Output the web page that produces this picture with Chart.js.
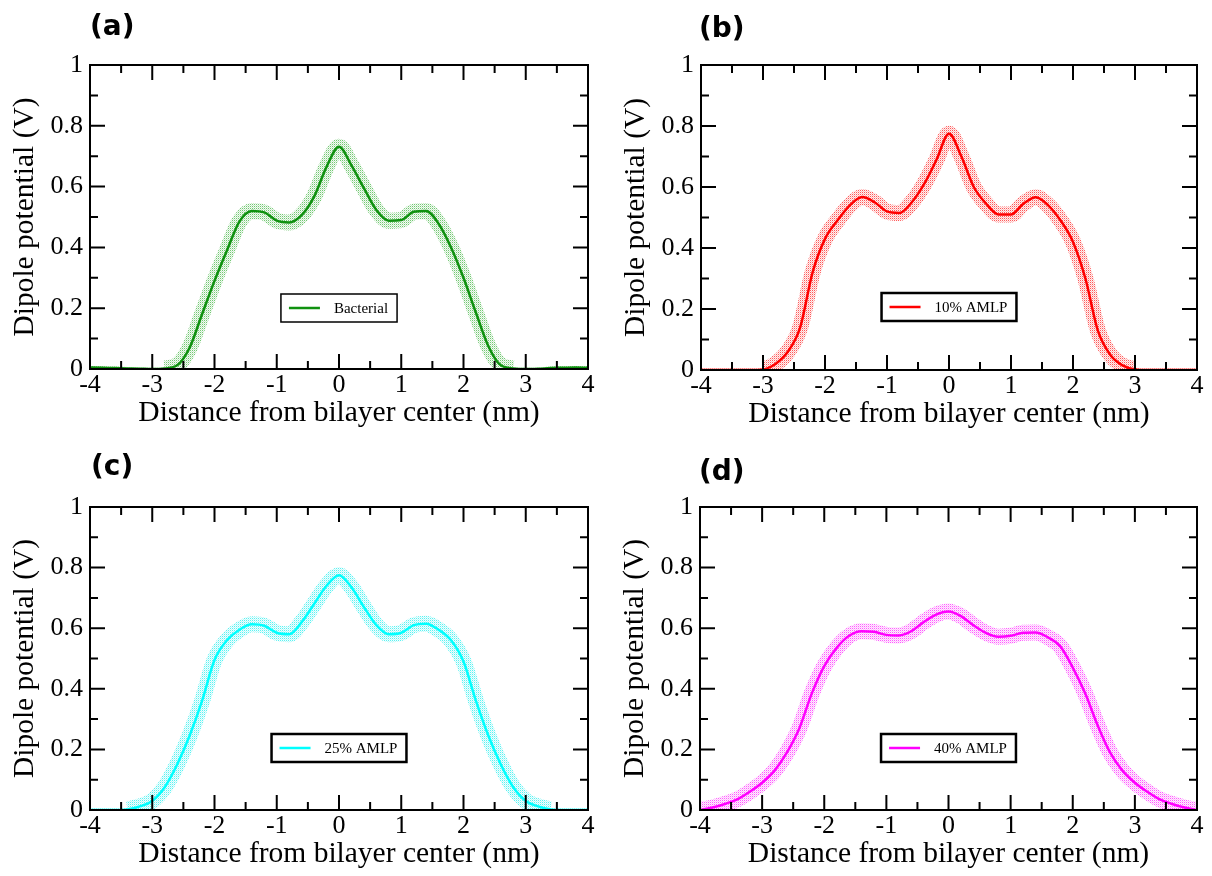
<!DOCTYPE html>
<html lang="en">
<head>
  <meta charset="UTF-8" />
  <title>Dipole potential profiles</title>
  <script src="https://cdn.jsdelivr.net/npm/chart.js"></script>
  <style>
    body { margin: 0; background: #fff; }
    #wrap { position: relative; width: 1212px; height: 876px; overflow: hidden; }
    #wrap canvas { position: absolute; }
    .tag {
      position: absolute;
      font-family: 'DejaVu Sans', sans-serif;
      font-weight: bold;
      font-size: 28px;
      line-height: 28px;
      color: #000;
    }
  </style>
</head>
<body>
  <div id="wrap">
    <canvas id="cA" width="606" height="440" style="left:0;top:0"></canvas>
    <canvas id="cB" width="606" height="440" style="left:606px;top:0"></canvas>
    <canvas id="cC" width="606" height="436" style="left:0;top:440px"></canvas>
    <canvas id="cD" width="606" height="436" style="left:606px;top:440px"></canvas>
    <div class="tag" style="left:90px;top:12px">(a)</div>
    <div class="tag" style="left:699px;top:14px">(b)</div>
    <div class="tag" style="left:91px;top:452px">(c)</div>
    <div class="tag" style="left:699px;top:457px">(d)</div>
  </div>

  <script>
    // distance from bilayer center (nm)
    const xs = [-4, -3.8, -3.6, -3.4, -3.2, -3, -2.8, -2.6, -2.4, -2.2, -2, -1.8, -1.6, -1.4, -1.2, -1, -0.8, -0.6, -0.4, -0.2,
                0, 0.2, 0.4, 0.6, 0.8, 1, 1.2, 1.4, 1.6, 1.8, 2, 2.2, 2.4, 2.6, 2.8, 3, 3.2, 3.4, 3.6, 3.8, 4];

    // dipole potential (V)
    const bacterial = [0.005, 0.004, 0.003, 0.002, 0.001, 0.000, 0.002, 0.012, 0.070, 0.180, 0.290, 0.390, 0.485, 0.520, 0.515, 0.488, 0.482, 0.506, 0.567, 0.665,
                       0.731, 0.670, 0.595, 0.523, 0.488, 0.490, 0.517, 0.520, 0.478, 0.400, 0.300, 0.185, 0.075, 0.012, 0.002, 0.000, 0.001, 0.003, 0.004, 0.005, 0.004];
    const amlp10 = [0, 0, 0, 0, 0, 0.002, 0.020, 0.060, 0.140, 0.320, 0.430, 0.490, 0.540, 0.567, 0.550, 0.520, 0.515, 0.550, 0.610, 0.690,
                    0.775, 0.700, 0.600, 0.545, 0.510, 0.510, 0.545, 0.566, 0.540, 0.490, 0.420, 0.300, 0.130, 0.050, 0.015, 0.002, 0, 0, 0, 0, 0];
    const amlp25 = [0, 0, 0, 0.002, 0.012, 0.030, 0.075, 0.150, 0.245, 0.360, 0.495, 0.560, 0.595, 0.613, 0.608, 0.585, 0.580, 0.620, 0.680, 0.740,
                    0.775, 0.735, 0.670, 0.610, 0.580, 0.585, 0.610, 0.615, 0.595, 0.560, 0.490, 0.360, 0.245, 0.150, 0.075, 0.030, 0.012, 0.002, 0, 0, 0];
    const amlp40 = [0.000, 0.008, 0.020, 0.035, 0.060, 0.090, 0.130, 0.190, 0.270, 0.385, 0.475, 0.535, 0.575, 0.590, 0.588, 0.578, 0.576, 0.590, 0.620, 0.645,
                    0.655, 0.640, 0.610, 0.585, 0.572, 0.575, 0.585, 0.586, 0.570, 0.540, 0.470, 0.385, 0.280, 0.190, 0.130, 0.090, 0.060, 0.035, 0.020, 0.008, 0.000];

    const xTicks = [-4, -3, -2, -1, 0, 1, 2, 3, 4];
    const xMinor = [-3.5, -2.5, -1.5, -0.5, 0.5, 1.5, 2.5, 3.5];
    const yTicks = [0, 0.2, 0.4, 0.6, 0.8, 1];
    const yMinor = [0.1, 0.3, 0.5, 0.7, 0.9];

    const serif = 'Liberation Serif, Times New Roman, serif';

    // dotted error band look
    function stipple(rgb) {
      const c = document.createElement('canvas');
      c.width = 2; c.height = 2;
      const g = c.getContext('2d');
      g.fillStyle = 'rgba(' + rgb + ',0.65)'; g.fillRect(0, 0, 1, 1);
      g.fillStyle = 'rgba(' + rgb + ',0.25)'; g.fillRect(1, 1, 1, 1);
      g.fillStyle = 'rgba(' + rgb + ',0.06)'; g.fillRect(1, 0, 1, 1); g.fillRect(0, 1, 1, 1);
      return g.createPattern(c, 'repeat');
    }

    // frame + inward ticks on all four sides
    const frameTicks = {
      id: 'frameTicks',
      afterDatasetsDraw(chart) {
        const { ctx, chartArea: a, scales: { x, y } } = chart;
        ctx.save();
        ctx.strokeStyle = '#000';
        ctx.lineWidth = 2;
        ctx.beginPath();
        const vt = (v, len) => {
          const px = x.getPixelForValue(v);
          ctx.moveTo(px, a.bottom); ctx.lineTo(px, a.bottom - len);
          ctx.moveTo(px, a.top); ctx.lineTo(px, a.top + len);
        };
        const ht = (v, len) => {
          const py = y.getPixelForValue(v);
          ctx.moveTo(a.left, py); ctx.lineTo(a.left + len, py);
          ctx.moveTo(a.right, py); ctx.lineTo(a.right - len, py);
        };
        xTicks.forEach(v => vt(v, 15));
        xMinor.forEach(v => vt(v, 8));
        yTicks.forEach(v => ht(v, 15));
        yMinor.forEach(v => ht(v, 8));
        ctx.stroke();
        ctx.strokeRect(a.left, a.top, a.right - a.left, a.bottom - a.top);
        ctx.restore();
      }
    };

    // boxed legend inside the plot
    const boxLegend = {
      id: 'boxLegend',
      afterDraw(chart, args, opts) {
        const { ctx, chartArea: a } = chart;
        const ds = chart.data.datasets[0];
        ctx.save();
        ctx.font = '15px ' + serif;
        const tw = ctx.measureText(ds.label).width;
        const w = 8 + 31 + 14 + tw + 9;
        const h = 28;
        const left = (a.left + a.right) / 2 - w / 2;
        const top = a.top + opts.top;
        ctx.fillStyle = '#fff';
        ctx.fillRect(left, top, w, h);
        ctx.strokeStyle = '#000';
        ctx.lineWidth = opts.lw;
        ctx.strokeRect(left, top, w, h);
        ctx.strokeStyle = ds.borderColor;
        ctx.lineWidth = 2.5;
        ctx.beginPath();
        ctx.moveTo(left + 8, top + h / 2);
        ctx.lineTo(left + 39, top + h / 2);
        ctx.stroke();
        ctx.fillStyle = '#000';
        ctx.textBaseline = 'middle';
        ctx.fillText(ds.label, left + 53, top + h / 2 + 1);
        ctx.restore();
      }
    };

    function panel(id, box, area, label, ys, lineCol, bandRgb, legendTop, legendLw) {
      const pts = xs.map((v, i) => ({ x: v, y: ys[i] }));
      const yW = area.l - box.x;
      const xH = box.y + box.h - area.b;
      const titleFont = { family: serif, size: 29.5 };
      const tickFont = { family: serif, size: 26 };
      return new Chart(document.getElementById(id), {
        type: 'line',
        data: {
          datasets: [
            { label: label, data: pts, borderColor: lineCol, borderWidth: 2.5, pointRadius: 0,
              cubicInterpolationMode: 'monotone' },
            { label: label + ' error', data: pts, borderColor: stipple(bandRgb), borderWidth: 16, pointRadius: 0,
              cubicInterpolationMode: 'monotone', borderJoinStyle: 'round', clip: 0,
              // band is thin where the potential is flat at zero
              segment: { borderWidth: c => Math.max(c.p0.parsed.y, c.p1.parsed.y) < 0.006 ? 3 : 16 } }
          ]
        },
        options: {
          responsive: false,
          animation: false,
          events: [],
          layout: { padding: { top: area.t - box.y, right: box.x + box.w - area.r, left: 0, bottom: 0 } },
          plugins: {
            legend: { display: false },
            tooltip: { enabled: false },
            boxLegend: { top: legendTop, lw: legendLw }
          },
          scales: {
            x: {
              type: 'linear', min: -4, max: 4,
              afterBuildTicks: s => { s.ticks = xTicks.map(v => ({ value: v })); },
              ticks: { color: '#000', font: tickFont, padding: 1, maxRotation: 0, autoSkip: false, callback: v => String(v) },
              grid: { display: false, drawTicks: false },
              border: { display: false },
              title: { display: true, text: 'Distance from bilayer center (nm)', color: '#000', font: titleFont,
                       padding: { top: 0, bottom: Math.max(0, xH - 44 - 17.7) } },
              afterFit: s => { s.height = xH; }
            },
            y: {
              type: 'linear', min: 0, max: 1,
              afterBuildTicks: s => { s.ticks = yTicks.map(v => ({ value: v })); },
              ticks: { color: '#000', font: tickFont, padding: 7, autoSkip: false, callback: v => String(v) },
              grid: { display: false, drawTicks: false },
              border: { display: false },
              title: { display: true, text: 'Dipole potential (V)', color: '#000', font: titleFont,
                       padding: { top: yW - 65 - 17.7, bottom: 0 } },
              afterFit: s => { s.width = yW; }
            }
          }
        },
        plugins: [frameTicks, boxLegend]
      });
    }

    panel('cA', { x: 0, y: 0, w: 606, h: 440 }, { l: 90, t: 65, r: 588, b: 369 },
          'Bacterial', bacterial, 'rgb(15,145,15)', '40,170,40', 229, 1.5);
    panel('cB', { x: 606, y: 0, w: 606, h: 440 }, { l: 701, t: 65, r: 1197, b: 370 },
          '10% AMLP', amlp10, '#ff0000', '255,0,0', 228, 2.5);
    panel('cC', { x: 0, y: 440, w: 606, h: 436 }, { l: 90, t: 507, r: 588, b: 810 },
          '25% AMLP', amlp25, '#00ffff', '0,235,235', 227, 2.5);
    panel('cD', { x: 606, y: 440, w: 606, h: 436 }, { l: 700, t: 507, r: 1197, b: 810 },
          '40% AMLP', amlp40, '#ff00ff', '255,0,255', 227, 2.5);
  </script>
</body>
</html>
